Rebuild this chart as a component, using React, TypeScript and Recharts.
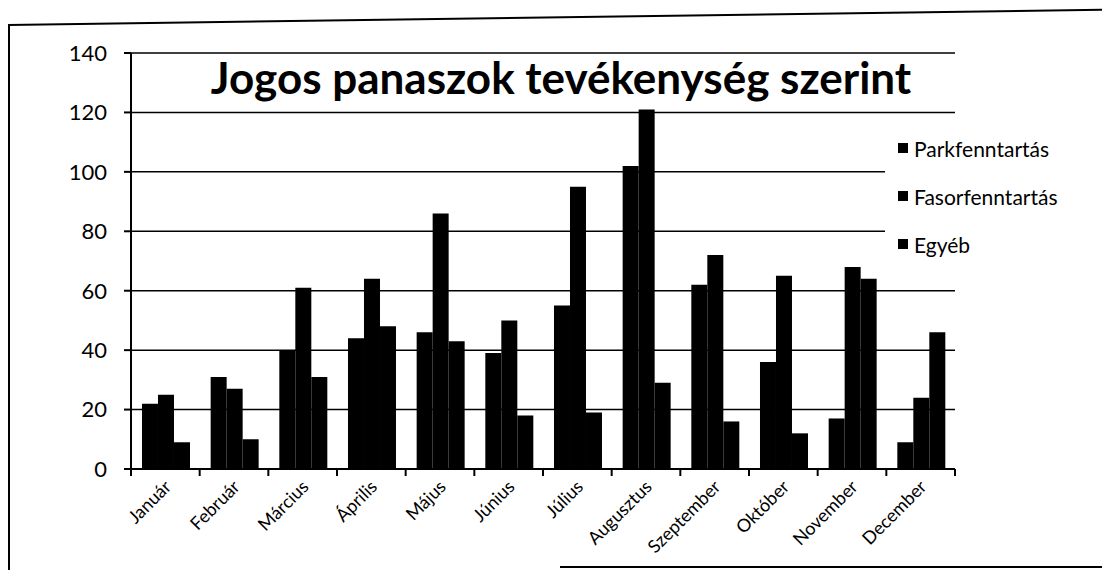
import { Bar, BarChart, CartesianGrid, XAxis, YAxis } from "recharts";

// havi jogos panaszok (leolvasva a szkennelt ábráról)
const months = [
  "Január", "Február", "Március", "Április", "Május", "Június",
  "Július", "Augusztus", "Szeptember", "Október", "November", "December",
];
const parkfenntartas = [22, 31, 40, 44, 46, 39, 55, 102, 62, 36, 17, 9];
const fasorfenntartas = [25, 27, 61, 64, 86, 50, 95, 121, 72, 65, 68, 24];
const egyeb = [9, 10, 31, 48, 43, 18, 19, 29, 16, 12, 64, 46];
const yTicks = [0, 20, 40, 60, 80, 100, 120, 140];

const series = [
  { key: "park", name: "Parkfenntartás", color: "#000" },
  { key: "fasor", name: "Fasorfenntartás", color: "#000" },
  { key: "egyeb", name: "Egyéb", color: "#000" },
];

const data = months.map((m, i) => ({
  month: m,
  park: parkfenntartas[i],
  fasor: fasorfenntartas[i],
  egyeb: egyeb[i],
}));

const FONT = "Lato, 'Open Sans', sans-serif";
const PLOT_W = 824;
const BAND = PLOT_W / months.length;

const MonthTick = (props: any) => {
  const { x, y, payload, index } = props;
  const left = x - BAND / 2;
  return (
    <g>
      <line x1={left} y1={y - 8} x2={left} y2={y - 1} stroke="#000" strokeWidth={2} />
      {index === months.length - 1 && (
        <line x1={x + BAND / 2} y1={y - 8} x2={x + BAND / 2} y2={y - 1} stroke="#000" strokeWidth={2} />
      )}
      <text
        x={x + 7}
        y={y + 11}
        transform={`rotate(-45 ${x + 7} ${y + 11})`}
        textAnchor="end"
        fontSize={18}
        fontFamily={FONT}
        fill="#000"
      >
        {payload.value}
      </text>
    </g>
  );
};

const App = () => {
  return (
    <div style={{ position: "absolute", left: 0, top: 0, width: 1102, height: 570, background: "#fff", overflow: "hidden" }}>
      {/* keret */}
      <div style={{ position: "absolute", left: 8, top: 25, width: 2, height: 545, background: "#000" }} />
      <div
        style={{
          position: "absolute", left: 8, top: 24, width: 1100, height: 2, background: "#000",
          transform: "rotate(-0.8deg)", transformOrigin: "0 0",
        }}
      />
      <div style={{ position: "absolute", left: 560, top: 566, width: 542, height: 2, background: "#000" }} />

      <div style={{ position: "absolute", left: 0, top: 0 }}>
        <BarChart
          width={1102}
          height={570}
          data={data}
          margin={{ top: 53, right: 147, bottom: 0, left: 0 }}
          barGap={0}
          barCategoryGap="16%"
        >
          <CartesianGrid vertical={false} stroke="#000" strokeWidth={1.5} />
          <XAxis
            dataKey="month"
            interval={0}
            height={101}
            tickLine={false}
            axisLine={{ stroke: "#000", strokeWidth: 2 }}
            tick={<MonthTick />}
          />
          <YAxis
            width={131}
            domain={[0, 140]}
            ticks={yTicks}
            tickSize={7}
            tickMargin={17}
            axisLine={{ stroke: "#000", strokeWidth: 2 }}
            tickLine={{ stroke: "#000", strokeWidth: 2 }}
            tick={{ fill: "#000", fontSize: 22, fontFamily: FONT }}
          />
          {series.map((s) => (
            <Bar key={s.key} dataKey={s.key} name={s.name} fill={s.color} isAnimationActive={false} />
          ))}
        </BarChart>
      </div>

      {/* jelmagyarázat */}
      <div
        style={{
          position: "absolute", left: 885, top: 124, width: 217, paddingLeft: 13,
          background: "#fff", fontFamily: FONT, fontSize: 21, color: "#000", boxSizing: "border-box",
        }}
      >
        {series.map((s) => (
          <div key={s.key} style={{ display: "flex", alignItems: "center", height: 48 }}>
            <span style={{ width: 10, height: 10, background: s.color, marginRight: 6, display: "inline-block" }} />
            {s.name}
          </div>
        ))}
      </div>

      <div
        style={{
          position: "absolute", left: 131, width: 860, top: 53, textAlign: "center",
          fontFamily: FONT, fontWeight: 700, fontSize: 44, color: "#000", lineHeight: "48px",
        }}
      >
        Jogos panaszok tevékenység szerint
      </div>
    </div>
  );
};

export default App;
